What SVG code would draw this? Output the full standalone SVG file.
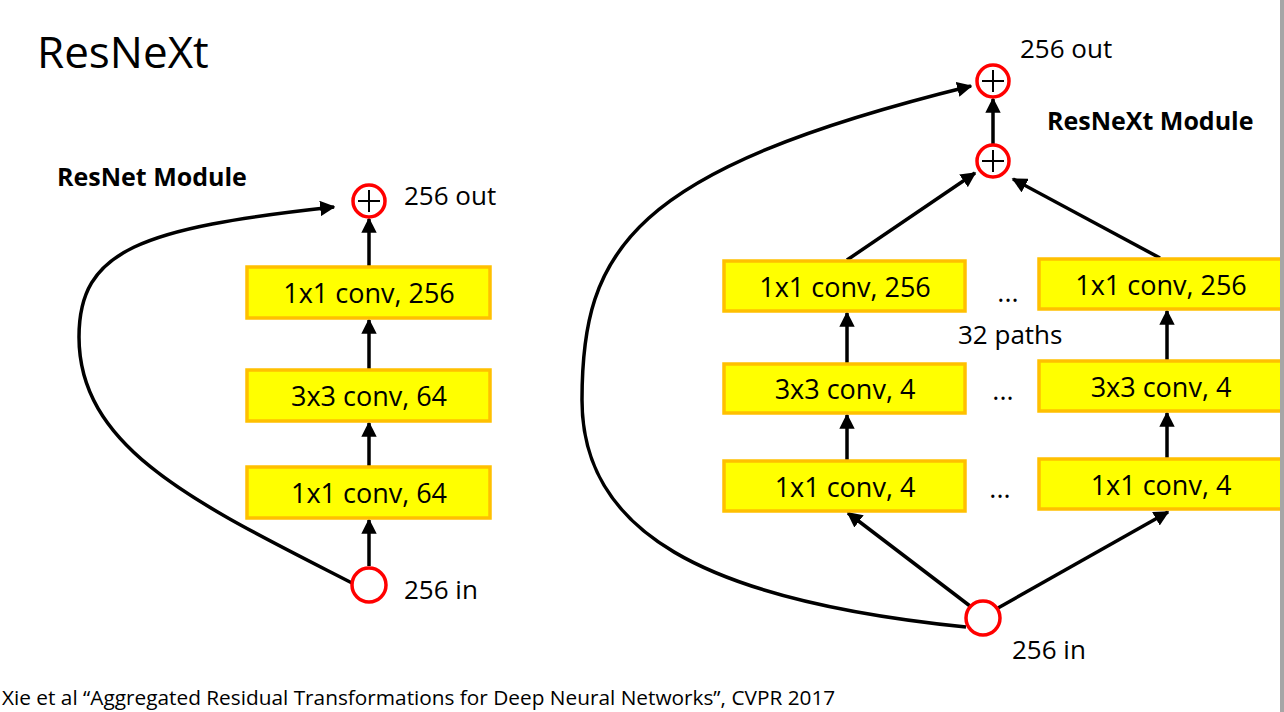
<svg xmlns="http://www.w3.org/2000/svg" width="1284" height="712" viewBox="0 0 1284 712">
<style>
.box{fill:#ffff00;stroke:#ffc000;stroke-width:3.5}
.bt{font-family:"Open Sans","DejaVu Sans",sans-serif;font-size:27px;fill:#000;text-anchor:middle}
.t{font-family:"Open Sans","DejaVu Sans",sans-serif;font-size:26px;fill:#000}
.b{font-family:"Open Sans","DejaVu Sans",sans-serif;font-size:25px;font-weight:bold;fill:#000}
.c{fill:#fff;stroke:#ff0000;stroke-width:3.5}
.p{stroke:#000;stroke-width:2;fill:none}
.e{stroke:#000;stroke-width:3.5;fill:none;marker-end:url(#ah)}
</style>
<defs>
<marker id="ah" viewBox="0 0 10 10" refX="9" refY="5" markerWidth="4.4" markerHeight="4.4" orient="auto" markerUnits="strokeWidth">
<path d="M0,0 L10,5 L0,10 z" fill="#000"/>
</marker>
</defs>
<rect x="0" y="0" width="1284" height="712" fill="#fff"/>
<text x="37" y="68" font-family="Open Sans,DejaVu Sans,sans-serif" font-size="44" fill="#000">ResNeXt</text>
<text class="b" x="57" y="186">ResNet Module</text>
<text class="b" x="1047" y="130">ResNeXt Module</text>

<g id="connectors">
<path class="e" d="M369,566 L369,520"/>
<path class="e" d="M369,466 L369,423"/>
<path class="e" d="M369,369 L369,320"/>
<path class="e" d="M369,266 L369,219"/>
<path class="e" d="M352,583 C200,505 79,450 79,337 C79,250 140,228 334,207"/>
<path class="e" d="M993,144 L993,99"/>
<path class="e" d="M847,260 L975,173"/>
<path class="e" d="M1160,258 L1013,179"/>
<path class="e" d="M847,460 L847,415"/>
<path class="e" d="M847,363 L847,313"/>
<path class="e" d="M1167,458 L1167,413"/>
<path class="e" d="M1167,360 L1167,311"/>
<path class="e" d="M970,606 L848,513"/>
<path class="e" d="M998,608 L1168,512"/>
<path class="e" d="M966,627 C700,600 582,530 582,400 C582,250 630,170 971,86"/>
</g>

<g id="l_out"><circle class="c" cx="369" cy="201" r="16"/><path class="p" d="M358,201 H380 M369,190 V212"/><text class="t" x="404" y="205">256 out</text></g>
<g id="l_c3"><rect class="box" x="247" y="267" width="243" height="51"/><text class="bt" x="369" y="303">1x1 conv, 256</text></g>
<g id="l_c2"><rect class="box" x="247" y="370" width="243" height="51"/><text class="bt" x="369" y="406">3x3 conv, 64</text></g>
<g id="l_c1"><rect class="box" x="247" y="467" width="243" height="51"/><text class="bt" x="369" y="503">1x1 conv, 64</text></g>
<g id="l_in"><circle class="c" cx="369" cy="585" r="17"/><text class="t" x="404" y="599">256 in</text></g>

<g id="r_out"><circle class="c" cx="993" cy="81" r="16"/><path class="p" d="M982,81 H1004 M993,70 V92"/><text class="t" x="1020" y="58">256 out</text></g>
<g id="r_sum"><circle class="c" cx="993" cy="161" r="16"/><path class="p" d="M982,161 H1004 M993,150 V172"/></g>
<g id="ra3"><rect class="box" x="724" y="261" width="241" height="50"/><text class="bt" x="845" y="297">1x1 conv, 256</text></g>
<g id="ra2"><rect class="box" x="724" y="364" width="241" height="49"/><text class="bt" x="845" y="399">3x3 conv, 4</text></g>
<g id="ra1"><rect class="box" x="724" y="461" width="241" height="50"/><text class="bt" x="845" y="497">1x1 conv, 4</text></g>
<g id="rb3"><rect class="box" x="1039" y="259" width="245" height="50"/><text class="bt" x="1161" y="295">1x1 conv, 256</text></g>
<g id="rb2"><rect class="box" x="1039" y="361" width="245" height="50"/><text class="bt" x="1161" y="397">3x3 conv, 4</text></g>
<g id="rb1"><rect class="box" x="1039" y="459" width="245" height="50"/><text class="bt" x="1161" y="495">1x1 conv, 4</text></g>
<g id="dots"><text class="bt" x="1008" y="302">...</text><text class="bt" x="1003" y="400">...</text><text class="bt" x="1000" y="498">...</text><text class="t" x="958" y="344">32 paths</text></g>
<g id="r_in"><circle class="c" cx="983" cy="618" r="17"/><text class="t" x="1012" y="659">256 in</text></g>
<text x="2" y="705" font-family="Open Sans,DejaVu Sans,sans-serif" font-size="20.8" fill="#000">Xie et al “Aggregated Residual Transformations for Deep Neural Networks”, CVPR 2017</text>
<rect x="1280" y="0" width="4" height="712" fill="#a6a6a6"/>
</svg>
